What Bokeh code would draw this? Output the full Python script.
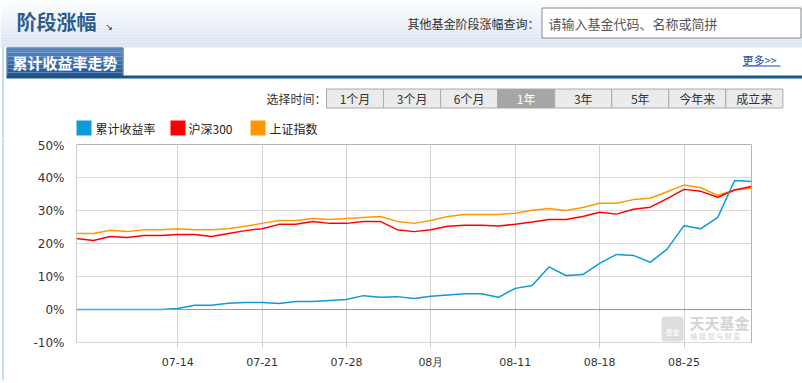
from bokeh.plotting import figure
from bokeh.layouts import column, row
from bokeh.models import Range1d, FixedTicker, PrintfTickFormatter, Label, BoxAnnotation, Span
from bokeh.core.properties import value
from bokeh.embed import file_html
from bokeh.resources import INLINE

# ---------------- data ----------------
dates = ["07-04",
         "07-07", "07-08", "07-09", "07-10", "07-11",
         "07-14", "07-15", "07-16", "07-17", "07-18",
         "07-21", "07-22", "07-23", "07-24", "07-25",
         "07-28", "07-29", "07-30", "07-31", "08-01",
         "08-04", "08-05", "08-06", "08-07", "08-08",
         "08-11", "08-12", "08-13", "08-14", "08-15",
         "08-18", "08-19", "08-20", "08-21", "08-22",
         "08-25", "08-26", "08-27", "08-28", "08-29"]
fund = [0, 0, 0, 0, 0, 0, 0.3, 1.3, 1.3, 1.9, 2.1, 2.1, 1.8, 2.4, 2.4, 2.7, 3.0, 4.2, 3.7, 3.9, 3.3,
        4.0, 4.4, 4.8, 4.8, 3.7, 6.4, 7.3, 12.9, 10.3, 10.6, 14.0, 16.7, 16.4, 14.3, 18.3, 25.4, 24.5,
        27.9, 39.1, 38.8]
hs300 = [21.5, 20.9, 22.1, 21.8, 22.4, 22.4, 22.7, 22.7, 22.1, 23.0, 23.9, 24.5, 25.8, 25.8, 26.7, 26.1,
         26.1, 26.7, 26.7, 24.2, 23.6, 24.2, 25.2, 25.5, 25.5, 25.3, 25.8, 26.5, 27.3, 27.3, 28.2, 29.5,
         28.9, 30.4, 31.0, 33.6, 36.4, 35.8, 34.0, 36.2, 37.3]
sse = [23.0, 23.0, 24.0, 23.6, 24.2, 24.2, 24.5, 24.2, 24.2, 24.5, 25.2, 26.1, 27.0, 27.0, 27.6, 27.3,
       27.6, 27.9, 28.2, 26.7, 26.1, 27.0, 28.2, 28.8, 28.8, 28.8, 29.2, 30.1, 30.6, 30.0, 30.9, 32.2,
       32.2, 33.3, 33.7, 35.7, 37.7, 36.9, 34.6, 36.2, 36.8]
series_names = ["累计收益率", "沪深300", "上证指数"]
series_colors = ["#0c9bd4", "#ff0000", "#ff9900"]
x_tick_dates = ["07-14", "07-21", "07-28", "08-04", "08-11", "08-18", "08-25"]
x_tick_labels = ["07-14", "07-21", "07-28", "08月", "08-11", "08-18", "08-25"]
y_ticks = [-10, 0, 10, 20, 30, 40, 50]
buttons = ["1个月", "3个月", "6个月", "1年", "3年", "5年", "今年来", "成立来"]
selected_button = "1年"

CJK = "Noto Sans CJK SC"
LAT = "DejaVu Sans"
PW, PH = 802, 383
HEAD_H = 138          # header strip: page y 0 .. 138
FOOT_H = 3            # footer strip: page y 380 .. 383
CH_H = PH - HEAD_H - FOOT_H
STRIP_W = 4
CH_W = PW - STRIP_W
FL, FW, FT, FH = 72, 675, 6, 198
BORDER_BLUE = "#93b9dc"

def deco_fig(w, h, x0, x1, y0, y1):
    f = figure(width=w, height=h, x_range=Range1d(x0, x1), y_range=Range1d(y1, y0),
               output_backend="svg", toolbar_location=None,
               x_axis_location=None, y_axis_location=None,
               min_border_left=0, min_border_right=0, min_border_top=0, min_border_bottom=0)
    f.frame_align = False
    f.grid.visible = False
    f.outline_line_color = None
    f.background_fill_color = "white"
    f.border_fill_color = "white"
    return f

def rect(f, xa, ya, xb, yb, fill, line=None):
    f.quad(left=[xa], right=[xb], top=[ya], bottom=[yb],
           fill_color=fill if fill else "white", fill_alpha=1.0 if fill else 0.0,
           line_color=line if line else None, line_width=1)

def txt(f, X, Y, s, size, color="#333333", bold=False, font=CJK, align="left"):
    f.text(x=[X], y=[Y], text=[s], text_font=value(font), text_font_size=value(f"{size}px"),
           text_color=color, text_font_style=value("bold" if bold else "normal"),
           text_align=value(align), text_baseline=value("middle"))

# ================= header strip (page-pixel coordinates, decoration only) =================
hp = deco_fig(PW, HEAD_H, 0, PW, 0, HEAD_H)
top_c = (252, 253, 255)
bot_c = (217, 228, 240)
n = 16
for k in range(n):
    ya = k * 3
    yb = ya + 3 if k < n - 1 else 47
    t = k / (n - 1)
    c = tuple(int(round(top_c[j] + (bot_c[j] - top_c[j]) * t)) for j in range(3))
    rect(hp, 0, ya, PW, yb, "#%02x%02x%02x" % c)
txt(hp, 16, 21, "阶段涨幅", 20, color="#2c5c8c", bold=True)
txt(hp, 105, 26, "↘", 9, color="#333333", font=LAT)
txt(hp, 407, 23, "其他基金阶段涨幅查询：", 12, color="#333333")
rect(hp, 541.5, 7.5, 800.5, 37.5, "#ffffff", line="#8a8a8a")
txt(hp, 548, 23, "请输入基金代码、名称或简拼", 13, color="#555555")

# left page border
rect(hp, 2, 47, 3, HEAD_H, BORDER_BLUE)

# tab + rule
rect(hp, 6, 75, PW, 78, "#135a88")
tab_top = (84, 134, 196)
tab_bot = (35, 86, 150)
for k in range(7):
    ya = 48 + k * 4
    t = k / 6
    c = tuple(int(round(tab_top[j] + (tab_bot[j] - tab_top[j]) * t)) for j in range(3))
    rect(hp, 7, ya, 122, min(ya + 4, 76), "#%02x%02x%02x" % c)
rect(hp, 6.5, 47.5, 122.5, 75.5, None, line="#1b4f7f")
txt(hp, 12, 62, "累计收益率走势", 15, color="#ffffff", bold=True)
txt(hp, 742, 59, "更多>>", 11, color="#1a4fa0")
rect(hp, 742, 65, 780, 66, "#1a4fa0")

# period buttons
txt(hp, 266, 98, "选择时间：", 12, color="#333333")
bw = 57.05
for i, b in enumerate(buttons):
    xa = 326 + i * bw
    sel = (b == selected_button)
    rect(hp, xa, 88.5, xa + bw, 107.5, "#a6a6a6" if sel else "#ebebeb", line="#aaaaaa")
    txt(hp, xa + bw / 2, 98, b, 12, color="#ffffff" if sel else "#333333", align="center")

# legend
for (sx, tx), name, col in zip([(76, 95), (170, 188), (250, 269)], series_names, series_colors):
    rect(hp, sx, 120, sx + 15, 135, col)
    txt(hp, tx, 128, name, 12, color="#222222")

# ================= left border strip beside the chart =================
sp = deco_fig(STRIP_W, CH_H, 0, STRIP_W, 0, CH_H)
rect(sp, 2, 0, 3, CH_H, BORDER_BLUE)

# ================= chart =================
xs = list(range(len(dates)))
p = figure(width=CH_W, height=CH_H, x_range=Range1d(0, len(dates) - 1), y_range=Range1d(y_ticks[0], y_ticks[-1]),
           output_backend="svg", toolbar_location=None,
           min_border_left=FL, min_border_right=CH_W - FL - FW, min_border_top=FT, min_border_bottom=CH_H - FT - FH)
p.frame_align = False
p.background_fill_color = "white"
p.border_fill_color = "white"
p.outline_line_color = "#b4b4b4"

tick_idx = [dates.index(d) for d in x_tick_dates]
p.xaxis.ticker = FixedTicker(ticks=tick_idx)
p.xaxis.major_label_overrides = {i: lab for i, lab in zip(tick_idx, x_tick_labels)}
p.xaxis.major_label_text_font = LAT
p.xaxis.major_label_text_font_size = "11px"
p.xaxis.major_label_text_color = "#333333"
p.xaxis.axis_line_color = "#d8d8d8"
p.xaxis.major_tick_line_color = "#cccccc"
p.xaxis.major_tick_out = 5
p.xaxis.major_tick_in = 0
p.xaxis.minor_tick_line_color = None
p.xaxis.major_label_standoff = 8

p.yaxis.ticker = FixedTicker(ticks=y_ticks)
p.yaxis.formatter = PrintfTickFormatter(format="%d%%")
p.yaxis.major_label_text_font = LAT
p.yaxis.major_label_text_font_size = "12px"
p.yaxis.major_label_text_color = "#333333"
p.yaxis.axis_line_color = "#cccccc"
p.yaxis.major_tick_line_color = None
p.yaxis.minor_tick_line_color = None
p.yaxis.major_tick_out = 0
p.yaxis.major_label_standoff = 12

p.xgrid.grid_line_color = "#d2d2d2"
p.ygrid.grid_line_color = "#d9d9d9"
p.add_layout(Span(location=0, dimension="width", line_color="#999999", line_width=1))

for vals, col in zip([sse, hs300, fund], [series_colors[2], series_colors[1], series_colors[0]]):
    p.line(xs, vals, line_color=col, line_width=1.5)

# watermark (inside the plot frame; page-pixel placement)
X0, X1 = 0, len(dates) - 1
Y0, Y1 = y_ticks[0], y_ticks[-1]
def dx(X):
    return X0 + (X - STRIP_W - FL) * (X1 - X0) / FW
def dy(Y):
    return Y0 + (HEAD_H + FT + FH - Y) * (Y1 - Y0) / FH
p.add_layout(BoxAnnotation(left=dx(661), right=dx(683), top=dy(316), bottom=dy(341),
                           fill_color="#dddddd", fill_alpha=1.0, line_alpha=0.0, border_radius=4))
for X, Y, s, size, col, bold in [(672, 331, "基金", 7, "#ffffff", False),
                                 (689, 322, "天天基金", 15, "#d4d4d4", True),
                                 (690, 335, "链 接 您 与 财 富", 7, "#cfcfcf", False)]:
    p.add_layout(Label(x=dx(X), y=dy(Y), text=s, text_font_size=f"{size}px", text_color=col,
                       text_font=CJK, text_font_style="bold" if bold else "normal",
                       text_align="center" if s == "基金" else "left", text_baseline="middle"))

# ================= footer strip (tab edges at the bottom of the page) =================
fp = deco_fig(PW, FOOT_H, 0, PW, PH - FOOT_H, PH)
rect(fp, 2, PH - FOOT_H, 3, PH, BORDER_BLUE)
rect(fp, 6, PH - 2, 140, PH, "#2d64a0")
rect(fp, 6, PH - 3, 140, PH - 2, "#1b4f7f")
rect(fp, 140, PH - 2, 283, PH - 1, "#cccccc")

layout = column(hp, row(sp, p, spacing=0), fp, spacing=0)
open("out.html", "w").write(file_html(layout, INLINE))
